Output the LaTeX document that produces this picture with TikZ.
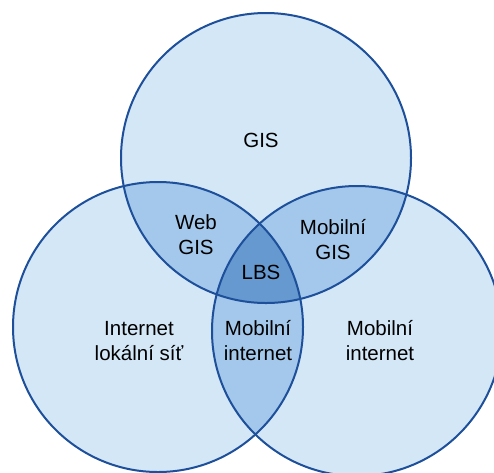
\documentclass[tikz,border=0pt]{standalone}
\usepackage{fontspec}
\setmainfont{Liberation Sans}
\usepackage{xcolor}
\usetikzlibrary{positioning}

\definecolor{vennline}{HTML}{1D4F9A}
\definecolor{vennone}{HTML}{D4E7F6}
\definecolor{venntwo}{HTML}{A3C8EB}
\definecolor{vennthree}{HTML}{6699CF}

\tikzset{
  venntext/.style={align=center, font=\fontsize{20.5}{25}\selectfont, text=black, inner sep=0pt}
}

\begin{document}
\begin{tikzpicture}[x=1pt, y=-1pt]
    \useasboundingbox (0,0) rectangle (494,472);

    % Circle centres
    \coordinate (gis) at (266,158);
    \coordinate (lan) at (158,327);
    \coordinate (mob) at (357,331);

    % Single areas
    \fill[vennone] (gis) circle (145);
    \fill[vennone] (lan) circle (145);
    \fill[vennone] (mob) circle (145);

    % Pairwise overlaps
    \begin{scope}
        \clip (gis) circle (145);
        \fill[venntwo] (lan) circle (145);
        \fill[venntwo] (mob) circle (145);
    \end{scope}
    \begin{scope}
        \clip (lan) circle (145);
        \fill[venntwo] (mob) circle (145);
    \end{scope}

    % Triple overlap
    \begin{scope}
        \clip (gis) circle (145);
        \clip (lan) circle (145);
        \fill[vennthree] (mob) circle (145);
    \end{scope}

    % Outlines
    \draw[vennline, line width=2pt] (gis) circle (145);
    \draw[vennline, line width=2pt] (lan) circle (145);
    \draw[vennline, line width=2pt] (mob) circle (145);

    % Labels
    \node[venntext] (gislbl) at (261,140) {GIS};
    \node[venntext] (weblbl) at (196,235) {Web\\GIS};
    \node[venntext] (mgislbl) at (333,240) {Mobilní\\GIS};
    \node[venntext] (lbslbl) at (261,272) {LBS};
    \node[venntext] (lanlbl) at (139,341) {Internet\\lokální síť};
    \node[venntext] (milbl) at (258,341) {Mobilní\\internet};
    \node[venntext] (moblbl) at (380,341) {Mobilní\\internet};
\end{tikzpicture}
\end{document}
